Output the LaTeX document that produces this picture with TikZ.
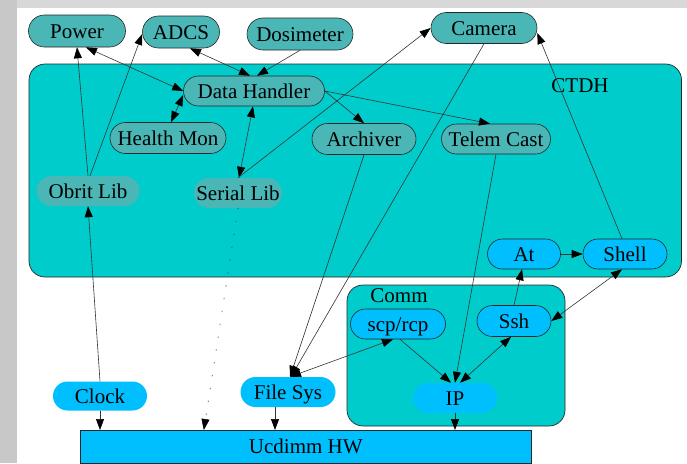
\documentclass[tikz,border=0pt]{standalone}
\usepackage{fontspec}
\setmainfont{Liberation Serif}
\usetikzlibrary{shapes.misc,arrows.meta}
\definecolor{bggrayL}{RGB}{200,200,200}
\definecolor{bggrayT}{RGB}{216,216,216}
\definecolor{clus}{RGB}{0,204,204}
\definecolor{tealnode}{RGB}{74,182,182}
\definecolor{bluenode}{RGB}{0,191,255}
\tikzset{
  basenode/.style={rounded rectangle, minimum height=30pt, inner sep=0pt,
    font=\fontsize{21}{22}\selectfont, text height=14pt, text depth=0pt, text=black},
  tealbox/.style={basenode, fill=tealnode, draw=black!85, line width=0.6pt},
  tealplain/.style={basenode, fill=tealnode},
  bluebox/.style={basenode, fill=bluenode, draw=black!85, line width=0.6pt},
  blueplain/.style={basenode, fill=bluenode},
  conn/.style={draw=black!80, line width=0.6pt, -{Triangle[length=11pt,width=8pt,color=black]}},
  biconn/.style={conn, {Triangle[length=11pt,width=8pt,color=black]}-{Triangle[length=11pt,width=8pt,color=black]}},
  clusterbox/.style={draw=black!85, line width=0.7pt, fill=clus, rounded corners=16pt},
  clusterlabel/.style={font=\fontsize{21}{22}\selectfont, text height=14pt, text depth=0pt, inner sep=0pt},
  dotline/.style={dash pattern=on 1pt off 12pt, line cap=round},
}
\begin{document}
\begin{tikzpicture}[x=1pt,y=-1pt]
\useasboundingbox (0,0) rectangle (687,463);
% background
\fill[white] (0,0) rectangle (687,463);
\fill[bggrayL] (0,0) rectangle (17,463);
\fill[bggrayT] (17,0) rectangle (687,8);
% clusters
\draw[clusterbox] (29,64) rectangle (681.5,277);
\node[clusterlabel] (ctdhlabel) at (580,85) {CTDH};
\draw[clusterbox] (347,285) rectangle (565,426);
\node[clusterlabel] (commlabel) at (399,295) {Comm};
% hardware
\node[draw=black!85, line width=0.6pt, fill=bluenode, rectangle, anchor=north west,
      minimum width=451pt, minimum height=32.5pt, inner sep=0pt,
      font=\fontsize{21}{22}\selectfont, text height=14pt, text depth=0pt] (hw) at (80,430) {Ucdimm HW};
% nodes
\node[tealbox, minimum width=97pt, minimum height=32pt] (power) at (77,31) {Power};
\node[tealbox, minimum width=77pt, minimum height=32pt] (adcs) at (181,32) {ADCS};
\node[tealbox, minimum width=106pt, minimum height=32pt] (dosim) at (300,34) {Dosimeter};
\node[tealbox, minimum width=106pt, minimum height=31pt] (cam) at (484,28) {Camera};
\node[tealbox, minimum width=141pt] (dh) at (254,91) {Data Handler};
\node[tealbox, minimum width=116pt, minimum height=31pt] (hm) at (168,138) {Health Mon};
\node[tealbox, minimum width=104pt, minimum height=31pt] (arch) at (364,139) {Archiver};
\node[tealbox, minimum width=109pt] (telem) at (496,139) {Telem Cast};
\node[tealplain, minimum width=103pt] (obrit) at (88,191) {Obrit Lib};
\node[tealplain, minimum width=88pt] (serial) at (238,193) {Serial Lib};
\node[bluebox, minimum width=73pt] (at) at (524,254) {At};
\node[bluebox, minimum width=84pt] (shell) at (625,254) {Shell};
\node[bluebox, minimum width=95pt] (scp) at (398,324) {scp/rcp};
\node[bluebox, minimum width=74pt, minimum height=31pt] (ssh) at (514,321) {Ssh};
\node[blueplain, minimum width=84pt] (ip) at (455,398) {IP};
\node[blueplain, minimum width=94pt, minimum height=29pt] (clock) at (100,396) {Clock};
\node[blueplain, minimum width=95pt] (fs) at (288,392) {File Sys};
% connectors
\draw[biconn] ([xshift=9pt]power.south) -- (dh.west);
\draw[biconn] ([xshift=9pt]adcs.south) -- ([xshift=-4pt]dh.north);
\draw[conn] (dosim.south) -- ([xshift=3pt]dh.north);
\draw[biconn] ([yshift=-4pt]dh.west) -- ([xshift=3pt]hm.north);
\draw[biconn] ([xshift=-1pt]dh.south) -- ([xshift=1pt]serial.north);
\draw[conn] (dh.east) -- (arch.north);
\draw[conn] (dh.east) -- ([xshift=-6pt]telem.north);
\draw[conn] (serial.north) -- (cam.west);
\draw[conn] (cam.south) -- ([xshift=3pt]fs.north);
\draw[conn] (arch.south) -- ([xshift=2pt]fs.north);
\draw[biconn] ([xshift=-5pt]scp.south) -- ([xshift=2pt]fs.north);
\draw[conn] (telem.south) -- (ip.north);
\draw[conn] ([xshift=2pt]scp.south) -- ([xshift=-4pt]ip.north);
\draw[biconn] ([xshift=-3pt]ssh.south) -- ([xshift=5pt]ip.north);
\draw[conn] (ssh.north) -- ([xshift=-2pt]at.south);
\draw[conn] (at.east) -- (shell.west);
\draw[biconn] ([xshift=-3pt]shell.south) -- (ssh.east);
\draw[conn] ([xshift=-3pt]shell.north) -- ([yshift=-5pt]cam.east);
\draw[conn] (obrit.north) -- (power.south);
\draw[conn] ([xshift=2pt]obrit.north) -- ([yshift=-2pt]adcs.west);
\draw[conn] (clock.north) -- (obrit.south);
\draw[conn] (clock.south) -- (clock.south |- hw.north);
\draw[conn, dotline] (serial.south) -- ([xshift=-102pt]hw.north);
\draw[conn] ([xshift=-13pt]fs.south) -- ([xshift=-13pt]fs.south |- hw.north);
\draw[conn] (ip.south) -- (ip.south |- hw.north);
\end{tikzpicture}
\end{document}
